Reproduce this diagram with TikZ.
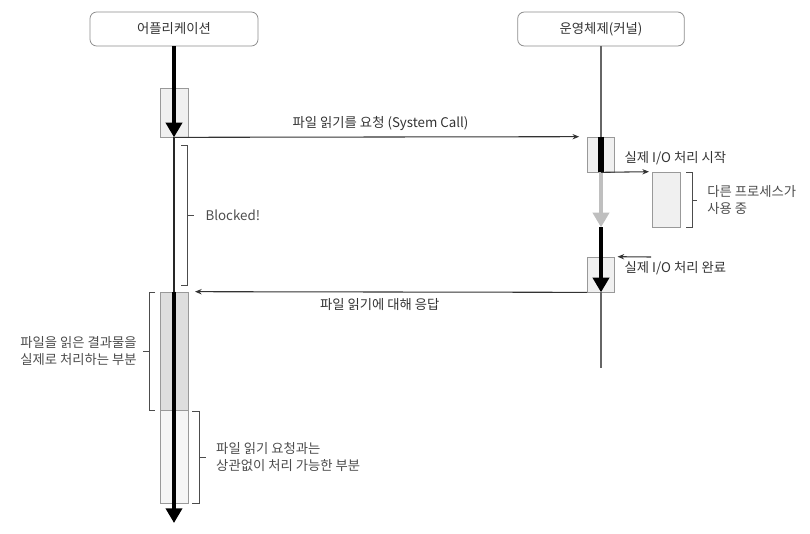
\documentclass[tikz,border=0pt]{standalone}
\usepackage{fontspec}
\setmainfont{Noto Sans CJK KR}
\usetikzlibrary{arrows.meta,positioning,calc}

\begin{document}
\begin{tikzpicture}[x=0.75pt,y=-0.75pt,
        font=\fontsize{10}{12.75}\selectfont, text=black!80,
        header/.style={draw=black!45, rounded corners=5pt, line width=0.6pt, minimum width=126pt, minimum height=25.5pt},
        act/.style={draw=black!40, fill=black!6, line width=0.5pt, inner sep=0pt, minimum width=21pt},
        life/.style={black!60, line width=0.8pt},
        flow/.style={line width=3.4pt, -{Triangle[width=12pt,length=11pt]}},
        msg/.style={black!80, line width=0.8pt, -{Stealth[length=5pt,width=4pt]}},
        brace/.style={black!70, line width=0.7pt}]
        \useasboundingbox (0,0) rectangle (810,533);

        % Participants
        \node[header] (app) at (174,29) {어플리케이션};
        \node[header, minimum width=125pt] (os) at (601,29) {운영체제(커널)};

        % Activation boxes
        \node[act, minimum height=36.75pt] (req) at (174,112.5) {};
        \node[act, minimum width=20.25pt, minimum height=26.25pt] (start) at (601,154.5) {};
        \node[act, minimum height=41.25pt] (other) at (666,199.5) {};
        \node[act, minimum width=20.25pt, minimum height=26.25pt] (done) at (601,274.5) {};
        \node[act, fill=black!13, minimum height=88.5pt] (work) at (174,351) {};
        \node[act, fill=black!4, minimum height=69.75pt] (free) at (174,456.5) {};

        \coordinate (osend) at (601,368);
        \coordinate (append) at (174,523);
        \coordinate (irq) at (651,257);

        % Application side
        \draw[flow] (app.south) -- (req.south);
        \draw[life, black!85] (req.south) -- (work.north);
        \draw[flow] (work.north) -- (append);

        % Kernel side
        \draw[life] (os.south) -- (start.north);
        \draw[line width=4pt] (start.north) -- (start.south);
        \draw[flow, black!25] (start.south) -- (start.south |- other.south);
        \draw[flow] (start.south |- other.south) -- (done.south);
        \draw[life] (done.south) -- (osend);

        % Messages
        \draw[msg, shorten >=6pt] (req.south) -- (start.north west)
            node[midway, above=1pt] (reql) {파일 읽기를 요청 (System Call)};
        \draw[msg, shorten >=2pt] (start.south) -- (other.north west);
        \draw[msg, shorten >=2pt] (irq) -- (done.north east);
        \draw[msg, shorten >=5pt] (done.south west) -- (work.north east)
            node[pos=0.52, below=1pt] (resl) {파일 읽기에 대해 응답};

        \node[right] (startl) at (620,158) {실제 I/O 처리 시작};
        \node[right] (donel) at (620,268) {실제 I/O 처리 완료};

        % Brackets
        \draw[brace] (181,145) -- (187,145) -- (187,285) -- (181,285)
            (187,215) -- (194,215) node[right=5pt] (blockl) {Blocked!};
        \draw[brace] (686,172) -- (692,172) -- (692,227) -- (686,227)
            (692,200) -- (697,200) node[right=4pt, align=left] (busyl) {다른 프로세스가\\사용 중};
        \draw[brace] (155,292) -- (149,292) -- (149,410) -- (155,410)
            (149,351) -- (143,351) node[left=1pt, align=right] (workl) {파일을 읽은 결과물을\\실제로 처리하는 부분};
        \draw[brace] (192,411) -- (199,411) -- (199,503) -- (192,503)
            (199,457) -- (206,457) node[right=4pt, align=left] (freel) {파일 읽기 요청과는\\상관없이 처리 가능한 부분};
    \end{tikzpicture}
\end{document}
